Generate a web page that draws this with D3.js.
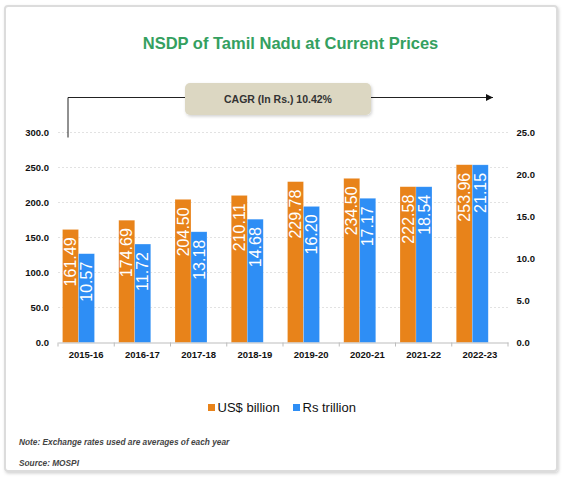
<!DOCTYPE html>
<html>
<head>
<meta charset="utf-8">
<script src="https://cdn.jsdelivr.net/npm/d3@7"></script>
<style>
  body { margin: 0; background: #fff; }
  text { font-family: "Liberation Sans", Arial, sans-serif; }
</style>
</head>
<body>
<div id="chart"></div>
<script>
var years = ["2015-16","2016-17","2017-18","2018-19","2019-20","2020-21","2021-22","2022-23"];
var usdBillion = [161.49, 174.69, 204.50, 210.11, 229.78, 234.50, 222.58, 253.96];
var rsTrillion = [10.57, 11.72, 13.18, 14.68, 16.20, 17.17, 18.54, 21.15];
var leftTicks = [0, 50, 100, 150, 200, 250, 300];
var rightTicks = [0, 5, 10, 15, 20, 25];
var seriesNames = ["US$ billion", "Rs trillion"];
var seriesColors = ["#e8831a", "#2e8ef5"];
var cagrLabel = "CAGR (In Rs.) 10.42%";

var W = 563, H = 478;
var plot = {l: 58, r: 508, t: 132.5, b: 342.5};

var svg = d3.select('#chart').append('svg')
    .attr('width', W)
    .attr('height', H);

var defs = svg.append('defs');
var shadow = defs.append('filter').attr('id', 'shadow')
    .attr('x', '-10%').attr('y', '-10%').attr('width', '120%').attr('height', '120%');
shadow.append('feDropShadow')
    .attr('dx', 1).attr('dy', 1.5).attr('stdDeviation', 1.5)
    .attr('flood-color', '#000').attr('flood-opacity', 0.18);

// outer frame
svg.append('rect')
    .attr('x', 5).attr('y', 6)
    .attr('width', 552).attr('height', 465)
    .attr('rx', 3)
    .attr('fill', '#fff')
    .attr('stroke', '#dcdcdc')
    .attr('stroke-width', 2)
    .attr('filter', 'url(#shadow)');

var x0 = d3.scaleBand()
    .domain(years)
    .range([plot.l, plot.r]);

var x1 = d3.scaleBand()
    .domain(seriesNames)
    .range([4.5, 36.5]);

var yL = d3.scaleLinear().domain([0, 300]).range([plot.b, plot.t]);
var yR = d3.scaleLinear().domain([0, 25]).range([plot.b, plot.t]);

// title
svg.append('text')
    .attr('x', 290.5)
    .attr('y', 49)
    .attr('text-anchor', 'middle')
    .attr('fill', '#34a060')
    .attr('font-size', '16.5px')
    .attr('font-weight', 'bold')
    .text('NSDP of Tamil Nadu at Current Prices');

// gridlines
svg.append('g')
    .attr('class', 'grid')
    .selectAll('line')
    .data(leftTicks.filter(d => d > 0))
    .enter()
    .append('line')
        .attr('x1', plot.l).attr('x2', plot.r)
        .attr('y1', d => yL(d)).attr('y2', d => yL(d))
        .attr('stroke', '#e2e2e2')
        .attr('stroke-dasharray', '2,2');

// CAGR arrow
var arrowY = 97.5;
var arrowX0 = x0(years[0]) + 10;
var arrowX1 = plot.r - 15;
defs.append('marker')
    .attr('id', 'head')
    .attr('viewBox', '0 0 10 10')
    .attr('refX', 10).attr('refY', 5)
    .attr('markerWidth', 7).attr('markerHeight', 7)
    .attr('markerUnits', 'userSpaceOnUse')
    .attr('orient', 'auto')
  .append('path')
    .attr('d', 'M0,0L10,5L0,10Z')
    .attr('fill', '#111');

svg.append('path')
    .attr('d', 'M' + arrowX0 + ',' + (plot.t + 5) + 'V' + arrowY + 'H' + arrowX1)
    .attr('fill', 'none')
    .attr('stroke', '#222')
    .attr('stroke-width', 1)
    .attr('marker-end', 'url(#head)');

svg.append('rect')
    .attr('x', 185).attr('y', 83)
    .attr('width', 186).attr('height', 32)
    .attr('rx', 5)
    .attr('fill', '#dcd7c2')
    .attr('filter', 'url(#shadow)');

svg.append('text')
    .attr('x', 278)
    .attr('y', 103)
    .attr('text-anchor', 'middle')
    .attr('fill', '#333')
    .attr('font-size', '10.5px')
    .attr('font-weight', 'bold')
    .text(cagrLabel);

// bars
var rows = years.map((y, i) => ({year: y, vals: [
    {s: seriesNames[0], v: usdBillion[i], h: yL(usdBillion[i]), c: seriesColors[0], t: usdBillion[i].toFixed(2)},
    {s: seriesNames[1], v: rsTrillion[i], h: yR(rsTrillion[i]), c: seriesColors[1], t: rsTrillion[i].toFixed(2)}
]}));

var groups = svg.append('g')
    .attr('class', 'bars')
    .selectAll('g')
    .data(rows)
    .enter()
    .append('g')
        .attr('transform', d => 'translate(' + x0(d.year) + ',0)');

groups.selectAll('rect')
    .data(d => d.vals)
    .enter()
    .append('rect')
        .attr('x', d => x1(d.s))
        .attr('y', d => d.h)
        .attr('width', x1.bandwidth())
        .attr('height', d => plot.b - d.h)
        .attr('fill', d => d.c)
        .attr('stroke', 'rgba(255,255,255,0.35)')
        .attr('stroke-width', 0.6);

groups.selectAll('text')
    .data(d => d.vals)
    .enter()
    .append('text')
        .attr('transform', d => 'translate(' + (x1(d.s) + x1.bandwidth() / 2 + 5.7) + ',' + (d.h + 8) + ') rotate(-90)')
        .attr('text-anchor', 'end')
        .attr('fill', '#fff')
        .attr('font-size', '16px')
        .text(d => d.t);

// x axis
var xAxis = d3.axisBottom(x0).tickSize(0).tickPadding(9);
svg.append('g')
    .attr('class', 'axis x')
    .attr('transform', 'translate(0,' + plot.b + ')')
    .call(xAxis)
    .call(g => g.select('.domain').attr('stroke', '#bdbdbd'))
    .call(g => g.selectAll('text')
        .attr('font-size', '9.5px')
        .attr('font-weight', 'bold')
        .attr('fill', '#111')
        .attr('font-family', '"Liberation Sans", Arial, sans-serif'));

svg.append('g')
    .attr('class', 'bounds')
    .selectAll('line')
    .data(years.concat(['end']))
    .enter()
    .append('line')
        .attr('x1', (d, i) => plot.l + i * x0.step())
        .attr('x2', (d, i) => plot.l + i * x0.step())
        .attr('y1', plot.b).attr('y2', plot.b + 4)
        .attr('stroke', '#bdbdbd');

// y axes
var yAxisL = d3.axisLeft(yL).tickValues(leftTicks).tickFormat(d3.format('.1f')).tickSize(0).tickPadding(9);
svg.append('g')
    .attr('class', 'axis y')
    .attr('transform', 'translate(' + plot.l + ',0)')
    .call(yAxisL)
    .call(g => g.select('.domain').remove())
    .call(g => g.selectAll('text')
        .attr('font-size', '9.5px')
        .attr('font-weight', 'bold')
        .attr('fill', '#111')
        .attr('font-family', '"Liberation Sans", Arial, sans-serif'));

var yAxisR = d3.axisRight(yR).tickValues(rightTicks).tickFormat(d3.format('.1f')).tickSize(0).tickPadding(8.5);
svg.append('g')
    .attr('class', 'axis y2')
    .attr('transform', 'translate(' + plot.r + ',0)')
    .call(yAxisR)
    .call(g => g.select('.domain').remove())
    .call(g => g.selectAll('text')
        .attr('font-size', '9.5px')
        .attr('font-weight', 'bold')
        .attr('fill', '#111')
        .attr('font-family', '"Liberation Sans", Arial, sans-serif'));

// legend
var legendX = [208, 293];
var legend = svg.append('g')
    .attr('class', 'legend')
    .selectAll('g')
    .data(seriesNames)
    .enter()
    .append('g')
        .attr('transform', (d, i) => 'translate(' + legendX[i] + ',404)');
legend.append('rect')
    .attr('width', 7).attr('height', 7)
    .attr('fill', (d, i) => seriesColors[i]);
legend.append('text')
    .attr('x', 9.5).attr('y', 7.8)
    .attr('font-size', '13px')
    .attr('fill', '#111')
    .text(d => d);

// notes
svg.append('text')
    .attr('x', 19).attr('y', 445)
    .attr('font-size', '8.3px')
    .attr('font-weight', 'bold')
    .attr('font-style', 'italic')
    .attr('fill', '#444')
    .text('Note: Exchange rates used are averages of each year');
svg.append('text')
    .attr('x', 19).attr('y', 465.5)
    .attr('font-size', '8.3px')
    .attr('font-weight', 'bold')
    .attr('font-style', 'italic')
    .attr('fill', '#444')
    .text('Source: MOSPI');
</script>
</body>
</html>
